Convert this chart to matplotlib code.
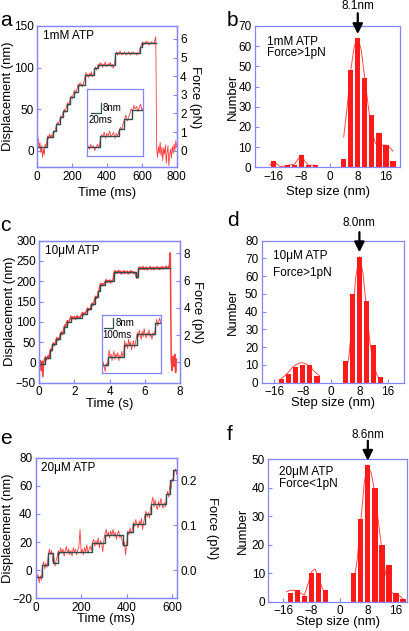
import numpy as np
import matplotlib
matplotlib.use("Agg")
import matplotlib.pyplot as plt

plt.rcParams['font.family'] = ['Liberation Sans', 'DejaVu Sans']

# ---------------- data ----------------
# panel a: 1mM ATP trace (time in ms, displacement in nm)
a_dt = 5
a_trace = [8, 15, 3, 10, -2, 6, -8, 2, -5, 8, 4, 12, 18, 14, 20, 16, 19, 15, 21, 24,
           22, 27, 30, 34, 31, 35, 38, 42, 39, 44, 47, 50, 46, 51, 55, 58, 54, 59, 63, 66,
           62, 67, 70, 73, 69, 72, 76, 80, 77, 82, 78, 80, 77, 81, 85, 90, 94, 89, 92, 88,
           93, 90, 95, 89, 92, 94, 98, 101, 97, 100, 104, 101, 106, 102, 105, 100, 104, 103, 107, 101,
           104, 102, 105, 103, 106, 101, 104, 99, 102, 108, 116, 119, 115, 118, 116, 120, 117, 115, 118, 116,
           119, 117, 115, 118, 116, 119, 117, 115, 118, 116, 119, 117, 116, 118, 115, 118, 116, 119, 123, 126,
           129, 131, 127, 130, 128, 132, 129, 131, 127, 130, 128, 131, 129, 130, 128, 133, 137, 2, -8, 5,
           -3, 10, -6, 4, -12, 3, -4, 7, -15, -2, 6, -18, -5, 2, -9, 5, -3, 8, 0, 12, 4]
a_step_t = [0, 54, 92, 110, 130, 150, 170, 190, 210, 232, 274, 328, 350, 446, 590, 600, 680]
a_step_d = [5, 17, 24, 32, 40, 48, 56, 64, 71, 79, 91, 99, 103, 117, 125, 129]
a_inset_dt = 2.5
a_inset_trace = [6, 8, 5, 9, 6, 8, 4, 7, 9, 6, 12, 17, 15, 19, 14, 18, 16, 20, 15, 17,
                 19, 14, 18, 16, 20, 23, 21, 26, 29, 33, 28, 31, 34, 38, 36, 41, 38, 40, 36, 39,
                 42, 37, 39]
a_inset_step_t = [0, 25, 60, 69, 84, 105]
a_inset_step_d = [7, 16, 22, 29.5, 37.5]

# panel c: 10uM ATP trace (time in s)
c_dt = 0.05
c_trace = [-10, 5, -20, 3, -35, 0, 8, 14, 6, 12, 16, 9, 25, 33, 28, 42, 48, 41, 46, 55,
           61, 54, 60, 57, 70, 75, 68, 73, 86, 92, 87, 98, 103, 97, 102, 108, 114, 107, 112, 108,
           113, 106, 111, 115, 108, 112, 109, 114, 118, 123, 117, 122, 119, 124, 129, 134, 128, 133, 130, 141,
           146, 140, 145, 157, 163, 158, 161, 174, 178, 190, 195, 189, 194, 191, 196, 199, 204, 197, 202, 198,
           203, 196, 201, 199, 205, 221, 226, 219, 224, 220, 227, 221, 225, 218, 223, 220, 226, 219, 224, 221,
           225, 218, 223, 220, 226, 221, 224, 219, 223, 220, 214, 207, 212, 231, 235, 229, 234, 230, 236, 229,
           233, 230, 235, 228, 233, 231, 236, 229, 234, 230, 235, 229, 233, 231, 236, 230, 234, 229, 235, 231,
           236, 230, 234, 232, 237, 231, 235, 233, 240, 270, 5, -20, 15, -10, 20, -25, 8]
c_step_t = [0, 0.3, 0.6, 0.75, 0.95, 1.2, 1.4, 1.55, 1.78, 2.4, 2.7, 2.95, 3.15, 3.35, 3.43, 3.72,
            4.22, 5.52, 5.64, 7.45]
c_step_d = [-3, 10, 30, 45, 58, 72, 88, 100, 110, 120, 131, 143, 160, 175, 192, 200, 222, 211, 232]
c_inset_dt = 10
c_inset_trace = [2, 8, 4, 1, 7, 5, 10, 17, 11, 14, 9, 13, 16, 10, 14, 12, 15, 9, 13, 11,
                 16, 12, 14, 24, 19, 22, 18, 25, 20, 23, 17, 21, 24, 19, 22, 26, 30, 27, 32, 28,
                 25, 31, 27, 33, 29, 26, 30, 28, 32, 27, 29, 25, 30, 28, 31, 36, 40, 35, 38, 41, 37]
c_inset_step_t = [0, 62, 223, 353, 542, 600]
c_inset_step_d = [5.75, 12, 20.75, 28.75, 37]

# panel e: 20uM ATP trace (time in ms)
e_dt = 5
e_trace = [0, -6, -3, -9, -4, -7, 3, 6, 1, 5, 2, 10, 15, 11, 14, 6, 9, 3, 7, 10,
           14, 11, 16, 12, 15, 10, 14, 17, 12, 15, 11, 14, 10, 16, 13, 15, 11, 14, 17, 29,
           12, 15, 11, 16, 13, 18, 12, 15, 17, 14, 20, 22, 17, 21, 18, 23, 16, 21, 19, 13,
           22, 26, 29, 24, 27, 23, 28, 25, 29, 24, 27, 22, 26, 28, 23, 25, 21, 17, 20, 11,
           19, 28, 25, 30, 26, 29, 34, 31, 36, 33, 30, 35, 32, 37, 29, 34, 39, 42, 38, 41,
           37, 44, 48, 52, 45, 50, 46, 43, 49, 45, 51, 47, 44, 48, 45, 53, 56, 52, 60, 58,
           65, 63, 70, 72, 68, 73]
e_step_t = [0, 26, 56, 75, 97, 246, 304, 385, 400, 428, 480, 509, 575, 590, 604, 619]
e_step_d = [-5, 4, 12, 5, 13, 19, 25, 18, 27, 33, 40, 47, 54, 64, 71]

# histograms: step size (nm) -> number
b_bins = [-16, -14, -12, -10, -8, -6, -4, -2, 0, 2, 4, 6, 8, 10, 12, 14, 16, 18]
b_counts = [3, 0, 1, 1, 6, 1, 1, 0, 0, 0, 4, 48, 64, 44, 26, 17, 11, 3]
b_fit_l_x = [-17, -16, -14, -12, -10, -9, -8, -7, -6, -4]
b_fit_l_y = [1, 3, 0.3, 1, 1.5, 4, 6, 3, 1, 1]
b_fit_r_x = [4, 5, 6, 7, 8, 9, 10, 11, 12, 13, 14, 15, 16, 17, 18]
b_fit_r_y = [15, 30, 48, 60, 64, 58, 44, 30, 18, 12, 10, 11, 11, 10, 8]

d_bins = [-14, -12, -10, -8, -6, -4, 4, 6, 8, 10, 12, 14]
d_counts = [2, 5, 9, 10, 10, 4, 12, 50, 71, 46, 21, 3]
d_fit_l_x = [-14.5, -14, -13, -12, -11, -10, -9, -8, -7, -6, -5, -4, -3.3]
d_fit_l_y = [1.5, 2.5, 4, 6, 8.5, 10, 11, 11.3, 10.5, 9, 7, 5, 4]
d_fit_r_x = [3.5, 4, 5, 6, 7, 8, 9, 10, 11, 12, 13, 14]
d_fit_r_y = [2, 4, 14, 36, 60, 71, 62, 42, 22, 10, 4, 1.5]

f_bins = [-14, -12, -10, -8, -6, -4, 4, 6, 8, 10, 12, 14, 16, 18]
f_counts = [3, 4, 2, 10, 10, 4, 10, 29, 48, 40, 20, 13, 3, 1]
f_fit_l_x = [-15, -14, -13, -12, -11, -10, -9, -8, -7, -6, -5, -4, -3.5]
f_fit_l_y = [3.5, 4, 4, 3.8, 3, 2.3, 6, 10.5, 11.5, 9, 5, 2.5, 1.5]
f_fit_r_x = [3.5, 5, 6, 7, 8, 9, 10, 11, 12, 13, 14, 15, 16, 17, 18]
f_fit_r_y = [2, 15, 28, 42, 48, 45, 38, 28, 18, 10, 5, 3, 2.5, 2, 1]

# ---------------- style ----------------
W, H = 409, 631
SPINE = '#8585ff'
RED = '#ff1a1a'
STEP = '#2f4f4f'

fig = plt.figure(figsize=(W / 100, H / 100), dpi=100)


def add_ax(l, t, r, b):
    return fig.add_axes([l / W, 1 - b / H, (r - l) / W, (b - t) / H])


def style(ax):
    for s in ax.spines.values():
        s.set_color(SPINE)
        s.set_linewidth(0.9)
    ax.tick_params(direction='in', length=3, width=0.8, color=SPINE,
                   labelsize=8.5, pad=2.5)


def trace_panel(ax, dt, trace, st, sd, k, xlim, ylim, xt, yt, ft, xlabel, label_txt,
                lbl_x, xl_y, force_x, lw_red=0.6):
    t = np.arange(len(trace)) * dt
    ax.plot(t, trace, color=RED, lw=lw_red, alpha=0.85)
    ax.step(st, sd + [sd[-1]], where='post', color=STEP, lw=1.0)
    ax.set_xlim(*xlim)
    ax.set_ylim(*ylim)
    ax.set_xticks(xt)
    ax.set_yticks(yt)
    style(ax)
    ax.set_xlabel(xlabel, fontsize=9.4, va='center')
    ax.xaxis.set_label_coords(0.5, xl_y)
    ax.set_ylabel('Displacement (nm)', fontsize=9.4, va='center')
    ax.yaxis.set_label_coords(lbl_x, 0.5)
    ax.text(0.04, 0.93, label_txt, transform=ax.transAxes, fontsize=8.5, va='center')
    ax2 = ax.twinx()
    ax2.set_ylim(ylim[0] / k, ylim[1] / k)
    ax2.set_yticks(ft)
    style(ax2)
    ax2.set_ylabel('Force (pN)', fontsize=9.4, rotation=270, va='center')
    ax2.yaxis.set_label_coords(force_x, 0.5)
    return ax2


def inset(ax_rect, dt, trace, st, sd, xlim, ylim, bar, tx):
    ins = add_ax(*ax_rect)
    t = np.arange(len(trace)) * dt
    ins.plot(t, trace, color=RED, lw=0.6, alpha=0.85)
    ins.step(st, sd + [sd[-1]], where='post', color=STEP, lw=1.0)
    ins.set_xlim(*xlim)
    ins.set_ylim(*ylim)
    ins.set_xticks([])
    ins.set_yticks([])
    for s in ins.spines.values():
        s.set_color(SPINE)
        s.set_linewidth(0.9)
    x0, x1, y0, y1 = bar
    ins.plot([x0, x1, x1], [y0, y0, y1], color=STEP, lw=0.9, transform=ins.transAxes)
    ins.text(x1 + 0.03, (y0 + y1) / 2, '8nm', transform=ins.transAxes, fontsize=7, va='center')
    ins.text(x0 - 0.03, y0 - 0.03, tx, transform=ins.transAxes, fontsize=7, va='top')


def hist_panel(ax, bins, counts, fits, xlim, ylim, yt, lines, peak, arr, txt_y,
               lbl_x, xl_y):
    ax.bar(bins, counts, width=1.5, color=RED, zorder=2)
    for fx, fy in fits:
        ax.plot(fx, fy, color=RED, lw=0.7, alpha=0.8, zorder=3)
    ax.set_xlim(*xlim)
    ax.set_ylim(*ylim)
    ax.set_xticks([-16, -8, 0, 8, 16])
    ax.set_yticks(yt)
    style(ax)
    ax.set_xlabel('Step size (nm)', fontsize=9.4, va='center')
    ax.xaxis.set_label_coords(0.5, xl_y)
    ax.set_ylabel('Number', fontsize=9.4, va='center')
    ax.yaxis.set_label_coords(lbl_x, 0.5)
    for s, yy in zip(lines, txt_y):
        ax.text(0.08, yy, s, transform=ax.transAxes, fontsize=8.5, va='center')
    txt_frac, start_frac, tip = arr
    ax.annotate('', xy=(8, tip), xycoords='data',
                xytext=(8, start_frac), textcoords=('data', 'axes fraction'),
                arrowprops=dict(arrowstyle='-|>,head_length=0.6,head_width=0.3',
                                color='k', lw=1.6, shrinkA=0, shrinkB=0),
                annotation_clip=False)
    ax.text(8, txt_frac, peak, transform=ax.get_xaxis_transform(),
            fontsize=8.5, ha='center', va='center', clip_on=False)


# ---------------- panel a ----------------
ax_a = add_ax(37.3, 26, 176.7, 167.3)
trace_panel(ax_a, a_dt, a_trace, a_step_t, a_step_d, 22.4, (0, 800), (-20, 150),
            [0, 200, 400, 600, 800], [0, 50, 100, 150], [0, 1, 2, 3, 4, 5, 6],
            'Time (ms)', '1mM ATP', -0.21, -0.18, 1.13)
inset((86.7, 89.3, 143.3, 155.5), a_inset_dt, a_inset_trace, a_inset_step_t, a_inset_step_d,
      (0, 105), (0, 54), (0.07, 0.26, 0.64, 0.79), '20ms')

# ---------------- panel b ----------------
ax_b = add_ax(255, 26, 400, 167.3)
hist_panel(ax_b, b_bins, b_counts, [(b_fit_l_x, b_fit_l_y), (b_fit_r_x, b_fit_r_y)],
           (-21.2, 20), (0, 70), range(0, 71, 10), ['1mM ATP', 'Force>1pN'], '8.1nm',
           (1.145, 1.09, 66), [0.89, 0.81], -0.155, -0.175)

# ---------------- panel c ----------------
ax_c = add_ax(39.3, 240.7, 180, 382.7)
trace_panel(ax_c, c_dt, c_trace, c_step_t, c_step_d, 33.6, (0, 8), (-50, 300),
            [0, 2, 4, 6, 8], list(range(-50, 301, 50)), [0, 2, 4, 6, 8],
            'Time (s)', '10\u03bcM ATP', -0.21, -0.15, 1.12, lw_red=1.1)
inset((102.3, 315.3, 160.7, 372.7), c_inset_dt, c_inset_trace, c_inset_step_t, c_inset_step_d,
      (0, 600), (0, 43), (0.03, 0.19, 0.775, 0.96), '100ms')

# ---------------- panel d ----------------
ax_d = add_ax(261.7, 240.7, 404, 382.7)
hist_panel(ax_d, d_bins, d_counts, [(d_fit_l_x, d_fit_l_y), (d_fit_r_x, d_fit_r_y)],
           (-19.6, 20.6), (0, 80), range(0, 81, 10), ['10\u03bcM ATP', 'Force>1pN'], '8.0nm',
           (1.125, 1.06, 73.5), [0.89, 0.77], -0.20, -0.145)

# ---------------- panel e ----------------
ax_e = add_ax(35.7, 457.7, 176.7, 598.3)
trace_panel(ax_e, e_dt, e_trace, e_step_t, e_step_d, 320, (0, 620), (-20, 80),
            [0, 200, 400, 600], list(range(-20, 81, 20)), [0, 0.1, 0.2],
            'Time (ms)', '20\u03bcM ATP', -0.195, -0.145, 1.25)

# ---------------- panel f ----------------
ax_f = add_ax(268.3, 459.3, 407, 601.7)
hist_panel(ax_f, f_bins, f_counts, [(f_fit_l_x, f_fit_l_y), (f_fit_r_x, f_fit_r_y)],
           (-20.2, 19.1), (0, 50), range(0, 51, 10), ['20\u03bcM ATP', 'Force<1pN'], '8.6nm',
           (1.17, 1.13, 49.5), [0.91, 0.83], -0.18, -0.145)

# panel letters
for s, x, y in [('a', 0, 21), ('b', 227, 21), ('c', 0, 225), ('d', 227, 220),
                ('e', 0, 438), ('f', 227, 435)]:
    fig.text(x / W, 1 - y / H, s, fontsize=15, va='center', ha='left')

fig.savefig('out.png', dpi=100)
